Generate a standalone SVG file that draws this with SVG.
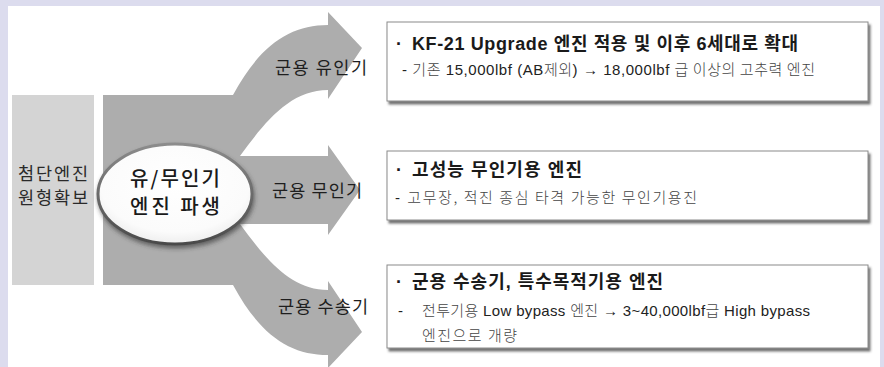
<svg xmlns="http://www.w3.org/2000/svg" width="884" height="367" viewBox="0 0 884 367">
<style>
  .kr { font-family: "Noto Sans CJK KR", "Liberation Sans", sans-serif; }
  .mix { font-family: "Liberation Sans", "Noto Sans CJK KR", sans-serif; }
  .lbl { font-size: 17.5px; fill: #1e1e1e; }
  .h { font-size: 18px; font-weight: bold; fill: #1a1a1a; }
  .s { font-size: 15px; fill: #222; }
  .lt { fill: #444; font-weight: 300; font-family: "Noto Sans CJK KR", sans-serif; }
  .box { fill: #ffffff; stroke: #8a8a8a; stroke-width: 1; filter: url(#sh); }
</style>
<defs>
  <filter id="sh" x="-5%" y="-10%" width="112%" height="130%">
    <feGaussianBlur in="SourceAlpha" stdDeviation="1.2"/>
    <feOffset dx="2" dy="3" result="b"/>
    <feFlood flood-color="#444" flood-opacity="0.75"/>
    <feComposite in2="b" operator="in"/>
    <feMerge><feMergeNode/><feMergeNode in="SourceGraphic"/></feMerge>
  </filter>
  <filter id="esh" x="-20%" y="-20%" width="140%" height="150%">
    <feGaussianBlur in="SourceAlpha" stdDeviation="2"/>
    <feOffset dx="1" dy="3" result="b"/>
    <feFlood flood-color="#333" flood-opacity="0.6"/>
    <feComposite in2="b" operator="in"/>
    <feMerge><feMergeNode/><feMergeNode in="SourceGraphic"/></feMerge>
  </filter>
  <radialGradient id="eg" cx="50%" cy="40%" r="60%">
    <stop offset="0" stop-color="#ffffff"/>
    <stop offset="0.8" stop-color="#fbfbfb"/>
    <stop offset="1" stop-color="#eeeeee"/>
  </radialGradient>
  <linearGradient id="es" x1="0" y1="0" x2="0" y2="1">
    <stop offset="0" stop-color="#8c8c8c"/>
    <stop offset="1" stop-color="#4a4a4a"/>
  </linearGradient>
</defs>

<rect x="0" y="0" width="884" height="367" fill="#dcdcee"/>
<rect x="8" y="6" width="872" height="361" fill="#ffffff"/>

<g id="connectors">
  <path d="M103,95 L233,95 C260,45 290,25 328,25 L328,12 L362,48 L328,99 L328,90 C290,90 265,122 240,156 L328,156 L328,145 L360,190 L328,235 L328,224 L240,224 C265,258 290,290 328,290 L328,281 L362,332 L328,368 L328,355 C290,355 260,335 233,285 L103,285 Z" fill="#adadad"/>
  <text class="kr lbl" x="275" y="74" textLength="92" lengthAdjust="spacing">군용 유인기</text>
  <text class="kr lbl" x="272" y="197" textLength="90" lengthAdjust="spacing">군용 무인기</text>
  <text class="kr lbl" x="278" y="313" textLength="90" lengthAdjust="spacing">군용 수송기</text>
</g>

<g id="node-base">
  <rect x="12" y="95" width="82" height="190" fill="#d4d4d4"/>
  <text class="kr" x="18" y="180" font-size="17.5" fill="#2a2a2a" textLength="70" lengthAdjust="spacing">첨단엔진</text>
  <text class="kr" x="18" y="204" font-size="17.5" fill="#2a2a2a" textLength="70" lengthAdjust="spacing">원형확보</text>
</g>

<g id="node-derive">
  <ellipse cx="175" cy="194" rx="77" ry="50" fill="url(#eg)" stroke="url(#es)" stroke-width="3" filter="url(#esh)"/>
  <text class="kr" x="130" y="186" font-size="20" font-weight="500" fill="#1a1a1a" textLength="90" lengthAdjust="spacing">유/무인기</text>
  <text class="kr" x="130" y="214" font-size="20" font-weight="500" fill="#1a1a1a" textLength="90" lengthAdjust="spacing">엔진 파생</text>
</g>

<g id="node-manned">
  <rect class="box" x="387" y="22" width="481" height="79"/>
  <text class="mix h" x="396" y="50">·</text>
  <text class="mix h" x="412" y="50" textLength="386" lengthAdjust="spacing">KF-21 Upgrade 엔진 적용 및 이후 6세대로 확대</text>
  <text class="mix s" x="402" y="75" textLength="413" lengthAdjust="spacing">- <tspan class="lt">기존</tspan> 15,000lbf (AB<tspan class="lt">제외</tspan>) → 18,000lbf <tspan class="lt">급 이상의 고추력 엔진</tspan></text>
</g>

<g id="node-unmanned">
  <rect class="box" x="387" y="151" width="481" height="69"/>
  <text class="mix h" x="396" y="176">·</text>
  <text class="mix h" x="412" y="176" textLength="170" lengthAdjust="spacing">고성능 무인기용 엔진</text>
  <text class="mix s" x="395" y="203" textLength="302" lengthAdjust="spacing">- <tspan class="lt">고무장, 적진 종심 타격 가능한 무인기용진</tspan></text>
</g>

<g id="node-transport">
  <rect class="box" x="387" y="265" width="481" height="83"/>
  <text class="mix h" x="396" y="288">·</text>
  <text class="mix h" x="412" y="288" textLength="251" lengthAdjust="spacing">군용 수송기, 특수목적기용 엔진</text>
  <text class="mix s" x="398" y="316">-</text>
  <text class="mix s" x="422" y="316" textLength="388" lengthAdjust="spacing"><tspan class="lt">전투기용</tspan> Low bypass <tspan class="lt">엔진</tspan> → 3~40,000lbf<tspan class="lt">급</tspan> High bypass</text>
  <text class="kr s lt" x="422" y="341" textLength="95" lengthAdjust="spacing">엔진으로 개량</text>
</g>
</svg>
